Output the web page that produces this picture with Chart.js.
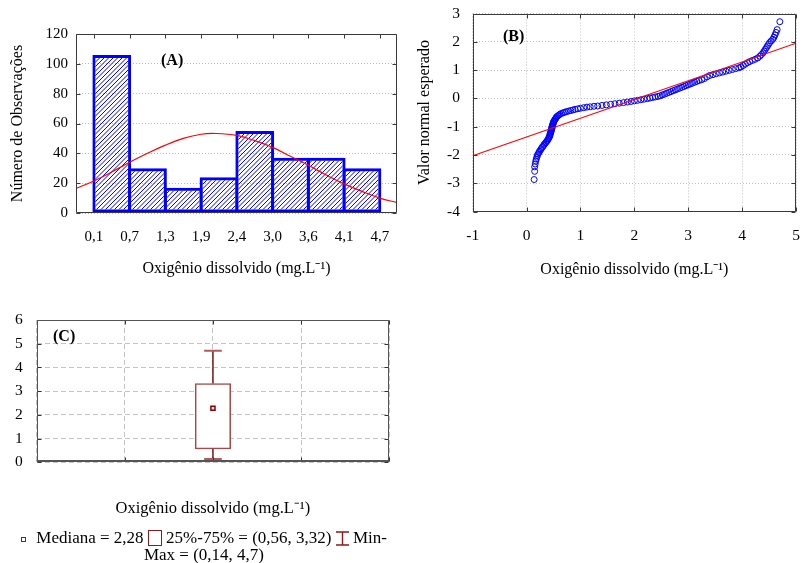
<!DOCTYPE html>
<html><head><meta charset="utf-8">
<script src="https://cdn.jsdelivr.net/npm/chart.js@4.4.1/dist/chart.umd.min.js"></script>
<style>
html,body{margin:0;padding:0;background:#fff;}
body{width:802px;height:563px;position:relative;overflow:hidden;font-family:'Liberation Serif','Times New Roman',serif;color:#000;}
canvas{position:absolute;}
.lab{position:absolute;font-weight:bold;font-size:16px;line-height:16px;white-space:nowrap;}
#legC{position:absolute;left:4px;top:529px;width:400px;text-align:center;font-size:17px;line-height:17.4px;white-space:nowrap;}
.ic-med{display:inline-block;width:3px;height:3px;border:1.5px solid #8b1a1a;background:#fff;vertical-align:middle;margin-right:6px;}
.ic-box{display:inline-block;width:12px;height:14px;border:1px solid #8b1a1a;vertical-align:-3px;}
.ic-mm{display:inline-block;vertical-align:-3px;}
</style></head><body>
<canvas id="cA" width="400" height="290" style="left:0;top:0;width:400px;height:290px"></canvas>
<canvas id="cB" width="402" height="290" style="left:400px;top:0;width:402px;height:290px"></canvas>
<canvas id="cC" width="400" height="230" style="left:0;top:300px;width:400px;height:230px"></canvas>
<div class="lab" style="left:161px;top:52px">(A)</div>
<div class="lab" style="left:503px;top:28px">(B)</div>
<div class="lab" style="left:53px;top:328px">(C)</div>
<div id="legC"><span class="ic-med"></span> Mediana = 2,28 <span class="ic-box"></span> 25%-75% = (0,56, 3,32) <svg class="ic-mm" width="13" height="15" viewBox="0 0 13 15"><path d="M0 1H13M6.5 1V14M0 14H13" stroke="#8b1a1a" stroke-width="1.4" fill="none"/></svg> Min-<br>Max = (0,14, 4,7)</div>
<script>
// ---------------- data ----------------
const histEdgeLabels = ['0,1','0,7','1,3','1,9','2,4','3,0','3,6','4,1','4,7'];
const histCounts = [106, 30, 17, 24, 55, 37, 37, 30];
// fitted normal curve, x in bin units (0 = first bin edge)
const normalCurveX = [-0.5, 0, 0.5, 1, 1.5, 2, 2.5, 3, 3.4, 4, 4.5, 5, 5.5, 6, 6.5, 7, 7.5, 8, 8.48];
const normalCurveY = [16.5, 21.5, 27.5, 34, 40, 45.5, 50, 52.8, 53.3, 52, 48.5, 44, 38, 32, 25.5, 19.5, 14.5, 10, 7];

const qqX = [0.14,0.15,0.15,0.16,0.17,0.18,0.19,0.20,0.21,0.23,0.24,0.26,0.27,0.29,0.30,0.32,0.33,0.35,0.36,0.38,
  0.39,0.40,0.41,0.42,0.43,0.43,0.44,0.44,0.45,0.45,0.46,0.46,0.47,0.47,0.47,0.48,0.48,0.49,0.49,0.50,
  0.50,0.51,0.52,0.53,0.54,0.55,0.56,0.58,0.60,0.62,0.65,0.68,0.71,0.74,0.78,0.82,0.86,0.90,0.95,1.00,
  1.06,1.12,1.18,1.25,1.32,1.40,1.48,1.56,1.64,1.72,1.80,1.87,1.94,2.00,2.06,2.12,2.18,2.24,2.29,2.34,
  2.39,2.44,2.48,2.52,2.56,2.60,2.64,2.68,2.72,2.76,2.80,2.84,2.88,2.92,2.96,3.00,3.04,3.08,3.12,3.16,
  3.20,3.25,3.30,3.35,3.40,3.46,3.52,3.58,3.64,3.70,3.76,3.82,3.88,3.94,3.98,4.02,4.06,4.10,4.14,4.19,
  4.24,4.29,4.33,4.36,4.39,4.41,4.43,4.45,4.47,4.49,4.51,4.54,4.57,4.59,4.61,4.63,4.65,4.70];
const qqY = [-2.87,-2.58,-2.42,-2.32,-2.22,-2.15,-2.08,-2.02,-1.97,-1.92,-1.87,-1.82,-1.78,-1.74,-1.70,-1.66,-1.62,-1.58,-1.55,-1.51,
  -1.48,-1.44,-1.41,-1.37,-1.34,-1.30,-1.27,-1.24,-1.20,-1.17,-1.14,-1.10,-1.07,-1.04,-1.01,-0.98,-0.95,-0.92,-0.89,-0.86,
  -0.83,-0.80,-0.77,-0.74,-0.71,-0.68,-0.65,-0.62,-0.59,-0.56,-0.53,-0.51,-0.49,-0.47,-0.45,-0.43,-0.41,-0.39,-0.37,-0.35,
  -0.33,-0.31,-0.30,-0.28,-0.27,-0.25,-0.23,-0.21,-0.19,-0.17,-0.15,-0.13,-0.11,-0.09,-0.07,-0.05,-0.03,-0.01,0.01,0.03,
  0.05,0.07,0.09,0.12,0.15,0.18,0.21,0.24,0.27,0.30,0.33,0.36,0.39,0.42,0.45,0.48,0.51,0.54,0.57,0.60,
  0.63,0.66,0.70,0.76,0.81,0.84,0.87,0.90,0.93,0.96,0.99,1.02,1.05,1.08,1.11,1.16,1.21,1.26,1.30,1.34,
  1.38,1.43,1.49,1.55,1.61,1.67,1.73,1.79,1.85,1.91,1.97,2.03,2.09,2.16,2.24,2.33,2.43,2.71];
const fitLineX = [-1, 5];
const fitLineY = [-2.03, 1.95];

const boxQuartiles = [0.56, 3.32];
const boxMinMax = [0.14, 4.7];
const boxMedian = 2.28;

// ---------------- helpers ----------------
const FONT = "'Liberation Serif', 'Times New Roman', serif";
Chart.defaults.font.family = FONT;
Chart.defaults.color = '#000';
Chart.defaults.animation = false;

const framePlugin = {
  id: 'frame',
  afterDraw(chart, args, o) {
    const {ctx, chartArea: a} = chart;
    const xs = chart.scales.x, ys = chart.scales.y;
    const L = Math.round(a.left) + 0.5, R = Math.round(a.right) - 0.5;
    const T = Math.round(a.top) + 0.5, B = Math.round(a.bottom) - 0.5;
    const len = o.tickLen || 4;
    ctx.save();
    ctx.strokeStyle = o.tickColor || '#333';
    ctx.lineWidth = 1;
    ctx.beginPath();
    xs.ticks.forEach(t => {
      const p = Math.round(xs.getPixelForValue(t.value)) + 0.5;
      ctx.moveTo(p, T); ctx.lineTo(p, T + len);
      if (o.bottomTicks !== false) { ctx.moveTo(p, B); ctx.lineTo(p, B - len); }
    });
    ys.ticks.forEach(t => {
      const p = Math.round(ys.getPixelForValue(t.value)) + 0.5;
      ctx.moveTo(L, p); ctx.lineTo(L + len, p);
      ctx.moveTo(R, p); ctx.lineTo(R - len, p);
    });
    ctx.stroke();
    ctx.strokeStyle = o.color || '#333';
    ctx.beginPath();
    ctx.rect(L, T, R - L, B - T);
    ctx.stroke();
    if (o.bottomWidth) {
      ctx.lineWidth = o.bottomWidth;
      ctx.strokeStyle = o.bottomColor || o.color;
      ctx.beginPath();
      ctx.moveTo(a.left, Math.round(a.bottom) - o.bottomWidth / 2);
      ctx.lineTo(a.right, Math.round(a.bottom) - o.bottomWidth / 2);
      ctx.stroke();
    }
    ctx.restore();
  }
};

function hatch(color) {
  const c = document.createElement('canvas');
  c.width = 9; c.height = 9;
  const g = c.getContext('2d');
  g.strokeStyle = color; g.lineWidth = 1;
  for (let k = 0; k <= 18; k += 4.5) {
    g.beginPath(); g.moveTo(k + 2, -2); g.lineTo(-2, k + 2); g.stroke();
  }
  return g.createPattern(c, 'repeat');
}
const fixW = w => s => { s.width = w; };
const fixH = h => s => { s.height = h; };
const transparent = 'rgba(0,0,0,0)';

// ---------------- Chart A: histogram ----------------
new Chart(document.getElementById('cA'), {
  type: 'bar',
  data: {
    datasets: [
      { type: 'line', order: 0, data: normalCurveX.map((x, i) => ({x, y: normalCurveY[i]})),
        borderColor: '#ff0000', borderWidth: 1.2, pointRadius: 0, tension: 0.4, fill: false },
      { type: 'bar', order: 1, data: histCounts.map((c, i) => ({x: i + 0.5, y: c})),
        backgroundColor: hatch('#0000ff'), borderColor: '#0000ff', borderWidth: 3, borderSkipped: false,
        barPercentage: 1.084, categoryPercentage: 1, grouped: false }
    ]
  },
  options: {
    responsive: false,
    layout: { padding: { left: 0, right: 3, top: 34, bottom: 0 } },
    plugins: { legend: { display: false }, tooltip: { enabled: false },
      frame: { color: '#3a3a3a', tickColor: '#3a3a3a', tickLen: 4, bottomTicks: false } },
    scales: {
      x: { type: 'linear', min: -0.5, max: 8.48, offset: false,
        afterBuildTicks: s => { s.ticks = histEdgeLabels.map((l, i) => ({value: i})); },
        ticks: { padding: 0, font: { size: 15 }, color: '#000', callback: (v, i) => histEdgeLabels[i] },
        grid: { display: true, drawOnChartArea: false, offset: false, drawTicks: true, tickLength: 14.7, tickColor: transparent },
        border: { display: false },
        title: { display: true, text: 'Oxigênio dissolvido (mg.L⁻¹)', font: { size: 16 }, color: '#000', padding: { top: 0, bottom: 11.4 } },
        afterFit: fixH(77) },
      y: { min: 0, max: 120, ticks: { stepSize: 20, padding: 0, font: { size: 15 }, color: '#000' },
        grid: { color: '#b8b8b8', lineWidth: 1, drawTicks: true, tickLength: 8, tickColor: transparent },
        border: { display: false, dash: [1, 2] },
        title: { display: true, text: 'Número de Observações', font: { size: 16 }, color: '#000', padding: { top: 8.4, bottom: 0 } },
        afterFit: fixW(76) }
    }
  },
  plugins: [framePlugin]
});

// ---------------- Chart B: normal probability plot ----------------
new Chart(document.getElementById('cB'), {
  type: 'scatter',
  data: {
    datasets: [
      { type: 'line', order: 0, data: fitLineX.map((x, i) => ({x, y: fitLineY[i]})),
        borderColor: '#ff0000', borderWidth: 1.2, pointRadius: 0, fill: false, tension: 0 },
      { type: 'scatter', order: 1, data: qqX.map((x, i) => ({x, y: qqY[i]})),
        pointRadius: 3, pointBorderWidth: 1, pointBorderColor: '#0000ff', pointBackgroundColor: transparent,
        borderColor: '#0000ff', backgroundColor: transparent }
    ]
  },
  options: {
    responsive: false,
    layout: { padding: { left: 0, right: 6, top: 13.5, bottom: 0 } },
    plugins: { legend: { display: false }, tooltip: { enabled: false },
      frame: { color: '#3a3a3a', tickColor: '#3a3a3a', tickLen: 4 } },
    scales: {
      x: { type: 'linear', min: -1, max: 5,
        ticks: { stepSize: 1, padding: 0, font: { size: 15.5 }, color: '#000' },
        grid: { color: '#c0c0c0', drawTicks: true, tickLength: 15.4, tickColor: transparent },
        border: { display: false, dash: [1, 2] },
        title: { display: true, text: 'Oxigênio dissolvido (mg.L⁻¹)', font: { size: 16 }, color: '#000', padding: { top: 0, bottom: 11.1 } },
        afterFit: fixH(78.5) },
      y: { type: 'linear', min: -4, max: 3,
        ticks: { stepSize: 1, padding: 0, font: { size: 15.5 }, color: '#000' },
        grid: { color: '#c0c0c0', drawTicks: true, tickLength: 12.7, tickColor: transparent },
        border: { display: false, dash: [1, 2] },
        title: { display: true, text: 'Valor normal esperado', font: { size: 16 }, color: '#000', padding: { top: 15.4, bottom: 0 } },
        afterFit: fixW(72.7) }
    }
  },
  plugins: [framePlugin]
});

// ---------------- Chart C: box plot ----------------
const boxX = 2;
new Chart(document.getElementById('cC'), {
  type: 'bar',
  data: {
    datasets: [
      { type: 'line', order: 0, data: [{x: boxX, y: boxMedian}], showLine: false,
        pointStyle: 'rect', pointRadius: 2.9, pointBorderWidth: 1.5, pointBorderColor: '#8b0000', pointBackgroundColor: '#f4dede' },
      { type: 'line', order: 1, data: boxMinMax.map(v => ({x: boxX, y: v})), showLine: false,
        pointStyle: 'line', pointRadius: 8.8, pointBorderWidth: 2, pointBorderColor: '#b25a5a' },
      { type: 'line', order: 2, data: [{x: boxX, y: boxQuartiles[1]}, {x: boxX, y: boxMinMax[1]}],
        borderColor: '#7a1616', borderWidth: 1.5, pointRadius: 0, fill: false },
      { type: 'line', order: 2, data: [{x: boxX, y: boxMinMax[0]}, {x: boxX, y: boxQuartiles[0]}],
        borderColor: '#7a1616', borderWidth: 1.5, pointRadius: 0, fill: false },
      { type: 'bar', order: 3, data: [{x: boxX, y: boxQuartiles}],
        backgroundColor: '#ffffff', borderColor: '#a84848', borderWidth: 1.6, borderSkipped: false,
        barThickness: 35.6, grouped: false }
    ]
  },
  options: {
    responsive: false,
    layout: { padding: { left: 0, right: 10, top: 20, bottom: 0 } },
    plugins: { legend: { display: false }, tooltip: { enabled: false },
      frame: { color: '#555', tickColor: '#333', tickLen: 4, bottomWidth: 2, bottomColor: '#555' } },
    scales: {
      x: { type: 'linear', min: 0, max: 4, offset: false,
        ticks: { display: false, stepSize: 1 },
        grid: { color: '#c4c4c4', offset: false, drawTicks: false },
        border: { display: false, dash: [5, 3] },
        title: { display: true, text: 'Oxigênio dissolvido (mg.L⁻¹)', font: { size: 16.5 }, color: '#000', padding: { top: 0, bottom: 11.1 } },
        afterFit: fixH(67.7) },
      y: { min: 0, max: 6,
        ticks: { stepSize: 1, padding: 0, font: { size: 15.5 }, color: '#000' },
        grid: { color: '#c4c4c4', drawTicks: true, tickLength: 14, tickColor: transparent },
        border: { display: false, dash: [5, 3] },
        afterFit: fixW(36.7) }
    }
  },
  plugins: [framePlugin]
});
</script>
</body></html>
